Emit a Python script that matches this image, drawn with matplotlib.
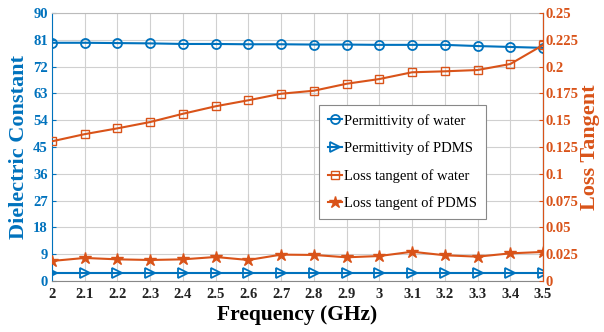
import matplotlib.pyplot as plt
from matplotlib.ticker import FixedLocator

BLUE = "#0072BD"
ORANGE = "#D95319"

freq = [2.0, 2.1, 2.2, 2.3, 2.4, 2.5, 2.6, 2.7, 2.8, 2.9, 3.0, 3.1, 3.2, 3.3, 3.4, 3.5]
perm_water = [80.0, 80.0, 79.9, 79.8, 79.6, 79.6, 79.5, 79.5, 79.4, 79.4, 79.3, 79.3, 79.3, 78.9, 78.6, 78.3]
perm_pdms = [2.75] * 16
loss_water = [0.1303, 0.137, 0.1424, 0.1483, 0.156, 0.163, 0.1686, 0.1747,
              0.1775, 0.184, 0.1884, 0.1947, 0.1956, 0.1968, 0.2024, 0.2201]
loss_pdms = [0.0187, 0.0215, 0.0202, 0.0196, 0.0202, 0.0224, 0.0196, 0.0246,
             0.0243, 0.0221, 0.0233, 0.0273, 0.0240, 0.0227, 0.0258, 0.0271]

left_ticks = [0, 9, 18, 27, 36, 45, 54, 63, 72, 81, 90]
right_ticks = [0, 0.025, 0.05, 0.075, 0.1, 0.125, 0.15, 0.175, 0.2, 0.225, 0.25]
right_labels = ["0", "0.025", "0.05", "0.075", "0.1", "0.125", "0.15", "0.175", "0.2", "0.225", "0.25"]
x_labels = ["2", "2.1", "2.2", "2.3", "2.4", "2.5", "2.6", "2.7", "2.8", "2.9", "3", "3.1", "3.2", "3.3", "3.4", "3.5"]

plt.rcParams["font.family"] = ["Liberation Serif", "DejaVu Serif"]

fig = plt.figure(figsize=(6.04, 3.32), dpi=100)
ax = fig.add_axes([52 / 604, 51 / 332, 491 / 604, 268 / 332])
ax2 = ax.twinx()

l1, = ax.plot(freq, perm_water, "-o", color=BLUE, lw=1.5, ms=6.5, mfc="none", mew=1.3)
l2, = ax.plot(freq, perm_pdms, "->", color=BLUE, lw=1.5, ms=6.5, mfc="none", mew=1.3)
l3, = ax2.plot(freq, loss_water, "-s", color=ORANGE, lw=1.5, ms=5.5, mfc="none", mew=1.0)
l4, = ax2.plot(freq, loss_pdms, "-*", color=ORANGE, lw=1.5, ms=9)

ax.set_xlim(2, 3.5)
ax.set_ylim(0, 90)
ax2.set_ylim(0, 0.25)
ax.xaxis.set_major_locator(FixedLocator(freq))
ax.set_xticklabels(x_labels)
ax.set_yticks(left_ticks)
ax2.set_yticks(right_ticks)
ax2.set_yticklabels(right_labels)

ax.grid(True, color="#d0d0d0", lw=0.8)
ax.set_axisbelow(True)

for lab in ax.get_xticklabels():
    lab.set_fontweight("bold")
ax.tick_params(axis="x", labelsize=10.5, colors="#222222", length=0, pad=5)
ax.tick_params(axis="y", labelsize=10.5, colors=BLUE, length=3, direction="in", pad=3)
for lab in ax.get_yticklabels():
    lab.set_fontweight("bold")
ax2.tick_params(axis="y", labelsize=10.5, colors=ORANGE, length=3, direction="in", pad=2)
for lab in ax2.get_yticklabels():
    lab.set_fontweight("bold")

ax.spines["left"].set_color(BLUE)
ax.spines["bottom"].set_color("#888888")
ax.spines["top"].set_color("#bbbbbb")
ax2.spines["right"].set_color(ORANGE)
ax2.spines["left"].set_visible(False)
ax2.spines["top"].set_visible(False)
ax2.spines["bottom"].set_visible(False)

ax.set_xlabel("Frequency (GHz)", fontsize=15.5, fontweight="bold", labelpad=3)
ax.set_ylabel("Dielectric Constant", fontsize=16, fontweight="bold", color=BLUE, labelpad=3)
ax2.set_ylabel("Loss Tangent", fontsize=16, fontweight="bold", color=ORANGE, labelpad=1)

leg = ax2.legend([l1, l2, l3, l4],
                 ["Permittivity of water", "Permittivity of PDMS",
                  "Loss tangent of water", "Loss tangent of PDMS"],
                 loc="upper left", bbox_to_anchor=(267 / 491, 176 / 268), borderaxespad=0,
                 fontsize=10.5, handlelength=1.0, handletextpad=0.1,
                 labelspacing=0.95, borderpad=0.6, fancybox=False, framealpha=1,
                 edgecolor="#888888")
leg.get_frame().set_linewidth(0.8)

fig.savefig("out.png", dpi=100)
